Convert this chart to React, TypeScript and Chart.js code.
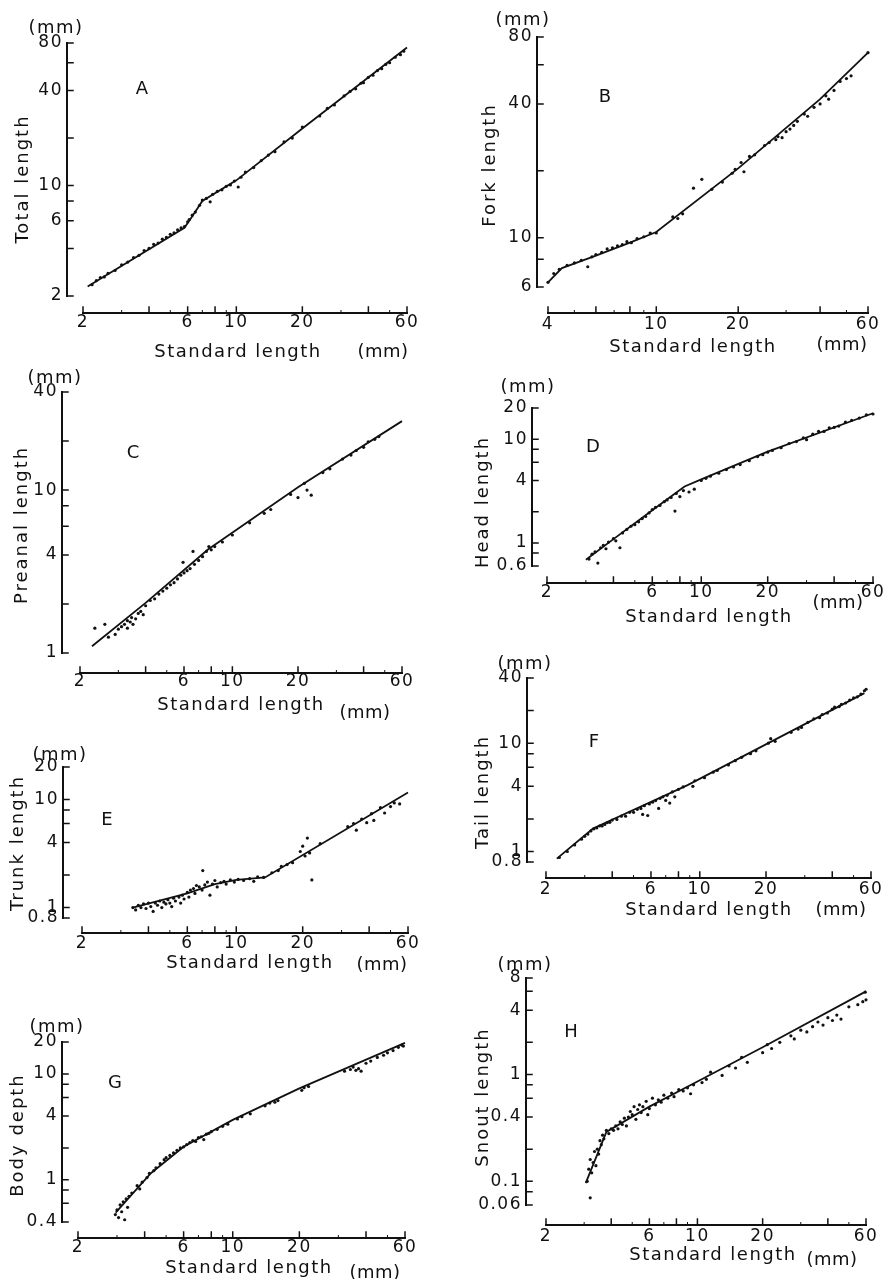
import React, { useEffect, useRef } from "react";
import { Chart, registerables } from "chart.js";

Chart.register(...registerables);

type Pt = [number, number];

// ---------------- tick values ----------------
const stdXLabels = [2, 6, 10, 20, 60];
const stdXMinor = [4, 8, 40];
const stdXSmall = [3, 5, 7, 9, 30, 50];
const bXLabels = [4, 10, 20, 60];
const bXMinor = [6, 8, 40];
const bXSmall = [5, 7, 9, 30, 50];

const aYLabels = [2, 6, 10, 40, 80];
const aYMinor = [4, 8, 20, 60];
const bYLabels = [6, 10, 40, 80];
const bYMinor = [8, 20, 60];
const cYLabels = [1, 4, 10, 40];
const cYMinor = [2, 6, 8, 20];
const dYLabels = [0.6, 1, 4, 10, 20];
const dYMinor = [0.8, 2, 6, 8];
const eYLabels = [0.8, 1, 4, 10, 20];
const eYMinor = [2, 6, 8];
const fYLabels = [0.8, 1, 4, 10, 40];
const fYMinor = [2, 6, 8, 20];
const gYLabels = [0.4, 1, 4, 10, 20];
const gYMinor = [0.6, 0.8, 2, 6, 8];
const hYLabels = [0.06, 0.1, 0.4, 1, 4, 8];
const hYMinor = [0.08, 0.2, 0.6, 0.8, 2, 6];

// ---------------- A: total length ----------------
const aPoints: Pt[] = [
  [2.2, 2.36], [2.3, 2.5], [2.4, 2.62], [2.5, 2.64], [2.6, 2.78], [2.8, 2.9], [3.0, 3.15], [3.2, 3.28],
  [3.4, 3.5], [3.6, 3.62], [3.8, 3.88], [4.0, 4.0], [4.2, 4.25], [4.4, 4.33], [4.6, 4.58], [4.8, 4.7],
  [5.0, 4.92], [5.2, 5.02], [5.4, 5.25], [5.6, 5.4], [5.8, 5.5], [6.0, 5.9], [6.1, 6.1], [6.3, 6.5],
  [6.5, 6.8], [6.8, 7.5], [7.0, 8.1], [7.3, 8.3], [7.6, 7.9], [7.8, 8.8], [8.2, 9.2], [8.6, 9.4],
  [9.0, 9.9], [9.4, 10.1], [9.8, 10.7], [10.2, 9.8], [10.5, 11.3], [11, 12.2], [12, 13.0], [13, 14.4],
  [14, 15.6], [15, 16.4], [16.5, 18.9], [18, 20.0], [20, 23.5], [24, 27.6], [26, 30.8], [28, 32.4],
  [31, 37], [33, 39.5], [35, 41], [37, 44.5], [38, 44.8], [40, 48.5], [42, 50], [44, 53.5],
  [46, 55], [48, 58.5], [50, 60], [53, 65], [56, 67.5], [58, 71],
];
const aFit: Pt[] = [[2.1, 2.3], [5.8, 5.4], [6.3, 6.4], [7.0, 8.0], [10, 10.8], [20, 23], [60, 75]];

// ---------------- B: fork length ----------------
const bPoints: Pt[] = [
  [4.0, 6.3], [4.2, 6.9], [4.4, 7.2], [4.7, 7.5], [5.0, 7.7], [5.3, 7.9], [5.6, 7.4], [5.8, 8.2],
  [6.0, 8.4], [6.3, 8.6], [6.6, 8.9], [6.9, 9.0], [7.2, 9.2], [7.5, 9.3], [7.8, 9.6], [8.1, 9.5],
  [8.5, 9.9], [9.0, 10.1], [9.5, 10.5], [10, 10.5], [11.5, 12.4], [12, 12.2], [12.5, 12.8], [13.7, 16.7],
  [14.7, 18.3], [16, 16.5], [17.5, 17.8], [19, 19.5], [19.5, 20.3], [20.5, 21.8], [21, 19.8], [22, 23.2],
  [23, 23.6], [25, 26], [26, 26.8], [27.5, 27.6], [28, 28.5], [29, 28.2], [30, 30], [31, 30.8],
  [32, 32], [33, 33.4], [35, 36], [36, 35.2], [38, 38.6], [40, 40], [42, 43.5], [43, 42],
  [45, 46], [47.4, 50.5], [50, 52], [52, 53.5], [60, 68],
];
const bFit: Pt[] = [[4, 6.3], [4.5, 7.3], [6, 8.3], [8, 9.5], [10, 10.6], [20, 20.5], [40, 42], [60, 68]];

// ---------------- C: preanal length ----------------
const cPoints: Pt[] = [
  [2.34, 1.42], [2.6, 1.5], [2.7, 1.25], [2.9, 1.3], [3.0, 1.4], [3.1, 1.45], [3.2, 1.5], [3.3, 1.58],
  [3.3, 1.42], [3.4, 1.55], [3.45, 1.65], [3.5, 1.5], [3.6, 1.62], [3.7, 1.75], [3.8, 1.8], [3.9, 1.72],
  [4.0, 1.95], [4.2, 2.1], [4.4, 2.15], [4.6, 2.3], [4.8, 2.4], [5.0, 2.5], [5.2, 2.62], [5.4, 2.7],
  [5.6, 2.85], [5.8, 3.0], [5.94, 3.6], [6.0, 3.1], [6.2, 3.2], [6.4, 3.3], [6.6, 4.2], [6.7, 3.5],
  [7.0, 3.7], [7.3, 3.9], [7.6, 4.2], [7.8, 4.5], [8.0, 4.3], [8.3, 4.5], [9.0, 4.8], [10, 5.3],
  [12, 6.3], [14, 7.2], [15, 7.6], [18.5, 9.4], [20, 9.0], [21.4, 11.0], [22, 10.0], [23, 9.3],
  [26, 12.8], [28, 13.5], [32, 15.5], [35, 16.4], [37, 17.5], [40, 18.3], [42, 19.8], [45, 20.5],
  [47, 21.3],
];
const cFit: Pt[] = [[2.27, 1.1], [4, 2.03], [7.7, 4.3], [20, 10.4], [60, 26.5]];

// ---------------- D: head length ----------------
const dPoints: Pt[] = [
  [3.1, 0.7], [3.2, 0.78], [3.3, 0.82], [3.4, 0.64], [3.5, 0.9], [3.6, 0.95], [3.7, 0.88], [3.8, 1.02],
  [4.0, 1.1], [4.1, 1.05], [4.28, 0.9], [4.4, 1.25], [4.6, 1.35], [4.8, 1.45], [5.0, 1.5], [5.2, 1.6],
  [5.4, 1.72], [5.6, 1.8], [5.8, 1.95], [6.0, 2.1], [6.2, 2.2], [6.5, 2.3], [6.8, 2.5], [7.0, 2.6],
  [7.3, 2.75], [7.6, 2.03], [7.7, 3.0], [8.0, 2.8], [8.3, 3.2], [8.8, 3.1], [9.3, 3.3], [10, 4.0],
  [10.5, 4.2], [11, 4.4], [12, 4.7], [13, 5.1], [14, 5.4], [15, 5.7], [16.5, 6.2], [18, 6.8],
  [19, 7.1], [20, 7.5], [21, 7.8], [23, 8.3], [25, 9.1], [27, 9.5], [29, 10.3], [30, 9.9],
  [32, 11.2], [34, 11.9], [36, 11.9], [38, 12.9], [40, 13.0], [42, 13.4], [45, 14.6], [48, 15.2],
  [52, 16.0], [56, 17.2], [60, 17.5],
];
const dFit: Pt[] = [[3.0, 0.69], [4, 1.09], [6, 2.07], [8.4, 3.5], [10, 4.1], [20, 7.6], [60, 17.8]];

// ---------------- E: trunk length ----------------
const ePoints: Pt[] = [
  [3.4, 1.0], [3.5, 0.95], [3.6, 1.05], [3.7, 1.0], [3.8, 1.08], [3.9, 0.98], [4.0, 1.1], [4.1, 1.02],
  [4.2, 0.92], [4.3, 1.1], [4.4, 1.05], [4.5, 1.15], [4.6, 1.0], [4.7, 1.12], [4.8, 1.08], [4.9, 1.18],
  [5.0, 1.1], [5.1, 1.02], [5.2, 1.22], [5.3, 1.15], [5.5, 1.25], [5.6, 1.1], [5.7, 1.3], [5.8, 1.2],
  [6.0, 1.38], [6.1, 1.25], [6.2, 1.45], [6.4, 1.5], [6.5, 1.35], [6.6, 1.6], [6.8, 1.55], [7.0, 1.45],
  [7.05, 2.2], [7.2, 1.62], [7.4, 1.72], [7.6, 1.3], [7.8, 1.65], [8.0, 1.78], [8.2, 1.55], [8.5, 1.7],
  [8.8, 1.75], [9.0, 1.65], [9.4, 1.8], [9.8, 1.72], [10.2, 1.82], [10.8, 1.78], [11.5, 1.85], [12, 1.75],
  [12.5, 1.92], [13.3, 1.9], [14.5, 2.1], [15.5, 2.2], [16, 2.4], [17, 2.5], [18, 2.6], [19.5, 3.3],
  [20, 3.7], [20.5, 3.0], [21, 4.4], [21.5, 3.2], [22, 1.8], [24, 3.9], [32, 5.6], [34, 6.0],
  [35, 5.2], [37, 6.6], [39, 6.1], [41, 7.4], [42, 6.4], [45, 8.4], [47, 7.5], [50, 8.6],
  [52, 9.3], [55, 9.1],
];
const eFit: Pt[] = [[3.4, 1.0], [6, 1.35], [8, 1.65], [10, 1.8], [13.5, 1.9], [60, 11.6]];

// ---------------- F: tail length ----------------
const fPoints: Pt[] = [
  [2.3, 0.88], [2.5, 1.0], [2.7, 1.15], [2.9, 1.3], [3.0, 1.38], [3.1, 1.45], [3.2, 1.55], [3.3, 1.62],
  [3.4, 1.65], [3.5, 1.72], [3.6, 1.72], [3.7, 1.78], [3.8, 1.85], [3.9, 1.86], [4.0, 1.95], [4.2, 1.98],
  [4.4, 2.12], [4.6, 2.12], [4.8, 2.3], [5.0, 2.3], [5.2, 2.45], [5.4, 2.5], [5.5, 2.2], [5.6, 2.65],
  [5.8, 2.15], [5.9, 2.75], [6.1, 2.85], [6.3, 2.95], [6.5, 2.5], [6.6, 3.1], [6.8, 3.2], [7.0, 2.96],
  [7.1, 3.3], [7.3, 2.8], [7.5, 3.55], [7.7, 3.2], [8.0, 3.75], [8.4, 3.95], [9.3, 4.0], [9.5, 4.5],
  [10.5, 4.8], [11.5, 5.4], [12, 5.6], [13.5, 6.3], [14.5, 6.9], [15.5, 7.4], [17, 8.0], [18, 8.5],
  [20.5, 10.0], [21, 11.0], [22, 10.4], [26, 12.6], [28, 13.5], [29, 14.0], [31, 15.6], [33, 16.8],
  [35, 17.2], [36, 18.4], [38, 19.0], [40, 20.6], [41, 21.5], [43, 21.8], [44, 22.9], [46, 23.5],
  [48, 25.0], [50, 26.2], [52, 26.8], [54, 28.4], [56, 30.5], [57, 31.5],
];
const fFit: Pt[] = [[2.24, 0.86], [3.27, 1.63], [8.8, 4.1], [56, 29]];

// ---------------- G: body depth ----------------
const gPoints: Pt[] = [
  [2.95, 0.47], [3.0, 0.52], [3.05, 0.44], [3.1, 0.58], [3.15, 0.5], [3.2, 0.62], [3.25, 0.42], [3.3, 0.66],
  [3.35, 0.55], [3.4, 0.7], [3.5, 0.75], [3.7, 0.88], [3.8, 0.82], [3.9, 0.95], [4.1, 1.05], [4.2, 1.15],
  [4.4, 1.22], [4.5, 1.3], [4.7, 1.42], [4.9, 1.55], [5.0, 1.62], [5.2, 1.7], [5.4, 1.8], [5.6, 1.9],
  [5.8, 2.0], [6.0, 2.05], [6.2, 2.15], [6.4, 2.25], [6.6, 2.35], [6.8, 2.3], [7.0, 2.5], [7.2, 2.55],
  [7.4, 2.4], [7.6, 2.7], [7.8, 2.75], [8.0, 2.85], [8.5, 3.0], [9.0, 3.2], [9.5, 3.35], [10.5, 3.75],
  [11, 3.95], [12, 4.2], [14, 5.0], [14.7, 5.3], [15.5, 5.4], [16, 5.6], [20.5, 7.0], [21, 7.4],
  [22, 7.6], [32, 10.6], [34, 11.0], [35, 11.6], [36, 10.8], [37, 11.2], [38, 10.6], [40, 12.6],
  [42, 13.2], [45, 14.3], [48, 15.0], [50, 15.8], [53, 16.6], [56, 17.8], [58, 18.7], [59, 18.3],
];
const gFit: Pt[] = [[2.96, 0.49], [3.4, 0.68], [4.28, 1.16], [6.0, 2.05], [10, 3.68], [20, 7.3], [60, 19.6]];

// ---------------- H: snout length ----------------
const hPoints: Pt[] = [
  [3.1, 0.1], [3.15, 0.13], [3.2, 0.07], [3.2, 0.16], [3.25, 0.12], [3.3, 0.15], [3.35, 0.19], [3.4, 0.14],
  [3.45, 0.2], [3.5, 0.18], [3.55, 0.24], [3.6, 0.22], [3.65, 0.27], [3.7, 0.25], [3.8, 0.3], [3.9, 0.28],
  [4.0, 0.31], [4.1, 0.3], [4.2, 0.33], [4.3, 0.31], [4.4, 0.36], [4.5, 0.34], [4.6, 0.39], [4.7, 0.33],
  [4.8, 0.4], [4.9, 0.45], [5.0, 0.42], [5.1, 0.5], [5.2, 0.38], [5.3, 0.47], [5.4, 0.52], [5.5, 0.44],
  [5.6, 0.5], [5.8, 0.56], [5.9, 0.42], [6.0, 0.48], [6.2, 0.6], [6.4, 0.52], [6.6, 0.58], [6.8, 0.55],
  [7.0, 0.64], [7.3, 0.6], [7.6, 0.67], [7.8, 0.62], [8.2, 0.72], [8.6, 0.7], [9.0, 0.75], [9.3, 0.66],
  [9.6, 0.8], [10.5, 0.84], [11, 0.9], [11.5, 1.05], [13, 0.98], [14, 1.2], [15, 1.15], [16, 1.45],
  [17, 1.3], [20, 1.6], [21, 1.9], [22, 1.75], [24, 2.0], [27, 2.3], [28, 2.15], [30, 2.6],
  [32, 2.5], [34, 2.8], [36, 3.1], [38, 2.9], [40, 3.4], [42, 3.2], [44, 3.6], [46, 3.3],
  [50, 4.3], [55, 4.5], [58, 4.8], [60, 5.0], [59.5, 5.9],
];
const hFit: Pt[] = [[3.05, 0.096], [3.8, 0.29], [6, 0.5], [10, 0.86], [20, 1.8], [60, 6.0]];

// ---------------- layout (page pixels) ----------------
type Panel = {
  key: string;
  yTitle: string;
  pts: Pt[];
  fit: Pt[];
  xMin: number; xMax: number; yMin: number; yMax: number;
  xLab: number[]; xMinor: number[]; xSmall: number[];
  yLab: number[]; yMinor: number[];
  box: [number, number, number, number];
  area: [number, number, number, number]; // left, right, top, bottom
  yAxisX: number; xAxisY: number; xLabelY: number;
  mm: [number, number]; yTitlePos: [number, number]; letter: [number, number];
  xTitle: [number, number]; xMm: [number, number];
};

const panels: Panel[] = [
  {
    key: "A", yTitle: "Total length", pts: aPoints, fit: aFit,
    xMin: 2, xMax: 60, yMin: 2, yMax: 80, xLab: stdXLabels, xMinor: stdXMinor, xSmall: stdXSmall,
    yLab: aYLabels, yMinor: aYMinor,
    box: [0, 0, 440, 365], area: [83, 407, 43, 296], yAxisX: 67, xAxisY: 313, xLabelY: 323,
    mm: [56, 28], yTitlePos: [23, 179], letter: [142, 89], xTitle: [238, 352], xMm: [383, 352],
  },
  {
    key: "B", yTitle: "Fork length", pts: bPoints, fit: bFit,
    xMin: 4, xMax: 60, yMin: 6, yMax: 80, xLab: bXLabels, xMinor: bXMinor, xSmall: bXSmall,
    yLab: bYLabels, yMinor: bYMinor,
    box: [440, 0, 445, 365], area: [548, 868, 37, 287], yAxisX: 537, xAxisY: 313, xLabelY: 325,
    mm: [523, 20], yTitlePos: [490, 165], letter: [605, 97], xTitle: [693, 347], xMm: [842, 345],
  },
  {
    key: "C", yTitle: "Preanal length", pts: cPoints, fit: cFit,
    xMin: 2, xMax: 60, yMin: 1, yMax: 40, xLab: stdXLabels, xMinor: stdXMinor, xSmall: stdXSmall,
    yLab: cYLabels, yMinor: cYMinor,
    box: [0, 365, 440, 355], area: [80, 402, 392, 653], yAxisX: 62, xAxisY: 673, xLabelY: 682,
    mm: [55, 378], yTitlePos: [22, 525], letter: [133, 453], xTitle: [241, 705], xMm: [365, 713],
  },
  {
    key: "D", yTitle: "Head length", pts: dPoints, fit: dFit,
    xMin: 2, xMax: 60, yMin: 0.6, yMax: 20, xLab: stdXLabels, xMinor: stdXMinor, xSmall: stdXSmall,
    yLab: dYLabels, yMinor: dYMinor,
    box: [440, 365, 445, 275], area: [547, 873, 408, 566], yAxisX: 532, xAxisY: 583, xLabelY: 593,
    mm: [528, 387], yTitlePos: [483, 502], letter: [593, 447], xTitle: [709, 617], xMm: [838, 603],
  },
  {
    key: "E", yTitle: "Trunk length", pts: ePoints, fit: eFit,
    xMin: 2, xMax: 60, yMin: 0.8, yMax: 20, xLab: stdXLabels, xMinor: stdXMinor, xSmall: stdXSmall,
    yLab: eYLabels, yMinor: eYMinor,
    box: [0, 720, 440, 255], area: [82, 408, 767, 918], yAxisX: 63, xAxisY: 933, xLabelY: 944,
    mm: [60, 755], yTitlePos: [18, 843], letter: [107, 820], xTitle: [250, 963], xMm: [382, 965],
  },
  {
    key: "F", yTitle: "Tail length", pts: fPoints, fit: fFit,
    xMin: 2, xMax: 60, yMin: 0.8, yMax: 40, xLab: stdXLabels, xMinor: stdXMinor, xSmall: stdXSmall,
    yLab: fYLabels, yMinor: fYMinor,
    box: [440, 640, 445, 285], area: [546, 871, 678, 862], yAxisX: 527, xAxisY: 878, xLabelY: 890,
    mm: [525, 664], yTitlePos: [483, 792], letter: [594, 742], xTitle: [709, 910], xMm: [841, 910],
  },
  {
    key: "G", yTitle: "Body depth", pts: gPoints, fit: gFit,
    xMin: 2, xMax: 60, yMin: 0.4, yMax: 20, xLab: stdXLabels, xMinor: stdXMinor, xSmall: stdXSmall,
    yLab: gYLabels, yMinor: gYMinor,
    box: [0, 975, 440, 304], area: [78, 405, 1042, 1222], yAxisX: 62, xAxisY: 1238, xLabelY: 1248,
    mm: [57, 1027], yTitlePos: [18, 1135], letter: [115, 1083], xTitle: [249, 1268], xMm: [375, 1273],
  },
  {
    key: "H", yTitle: "Snout length", pts: hPoints, fit: hFit,
    xMin: 2, xMax: 60, yMin: 0.06, yMax: 8, xLab: stdXLabels, xMinor: stdXMinor, xSmall: stdXSmall,
    yLab: hYLabels, yMinor: hYMinor,
    box: [440, 925, 445, 354], area: [546, 866, 978, 1205], yAxisX: 526, xAxisY: 1225, xLabelY: 1237,
    mm: [525, 965], yTitlePos: [483, 1097], letter: [571, 1032], xTitle: [713, 1255], xMm: [832, 1260],
  },
];

const INK = "#111111";
const FONT = "DejaVu Sans";
const TICK_SIZE = 17;
const TEXT_SIZE = 18;

function axisPlugin(p: Panel) {
  return {
    id: "axes" + p.key,
    beforeDraw(chart: any) {
      (chart.ctx as any).letterSpacing = "1.5px";
    },
    afterDraw(chart: any) {
      const ctx = chart.ctx as CanvasRenderingContext2D;
      const xs = chart.scales.x;
      const ys = chart.scales.y;
      const ox = p.box[0];
      const oy = p.box[1];
      ctx.save();
      ctx.strokeStyle = INK;
      ctx.fillStyle = INK;
      ctx.lineCap = "square";

      // y axis line with inward ticks
      const ax = p.yAxisX - ox;
      ctx.lineWidth = 2;
      ctx.beginPath();
      ctx.moveTo(ax, ys.getPixelForValue(p.yMax));
      ctx.lineTo(ax, ys.getPixelForValue(p.yMin));
      ctx.stroke();
      ctx.lineWidth = 1.5;
      ctx.beginPath();
      for (const v of [...p.yLab, ...p.yMinor]) {
        const py = ys.getPixelForValue(v);
        ctx.moveTo(ax, py);
        ctx.lineTo(ax + 6, py);
      }
      ctx.stroke();

      // x axis line with inward ticks
      const ay = p.xAxisY - oy;
      ctx.lineWidth = 2;
      ctx.beginPath();
      ctx.moveTo(xs.getPixelForValue(p.xMin), ay);
      ctx.lineTo(xs.getPixelForValue(p.xMax), ay);
      ctx.stroke();
      ctx.lineWidth = 1.5;
      ctx.beginPath();
      for (const v of [...p.xLab, ...p.xMinor]) {
        const px = xs.getPixelForValue(v);
        ctx.moveTo(px, ay);
        ctx.lineTo(px, ay - 6);
      }
      ctx.stroke();
      ctx.lineWidth = 1;
      ctx.beginPath();
      for (const v of p.xSmall) {
        const px = xs.getPixelForValue(v);
        ctx.moveTo(px, ay);
        ctx.lineTo(px, ay - 2.5);
      }
      ctx.stroke();

      // texts
      (ctx as any).letterSpacing = "1.5px";
      ctx.font = `${TEXT_SIZE}px "${FONT}"`;
      ctx.textAlign = "center";
      ctx.textBaseline = "middle";
      ctx.fillText("(mm)", p.mm[0] - ox, p.mm[1] - oy);
      ctx.fillText("Standard length", p.xTitle[0] - ox, p.xTitle[1] - oy);
      (ctx as any).letterSpacing = "0.5px";
      ctx.fillText("(mm)", p.xMm[0] - ox, p.xMm[1] - oy);
      (ctx as any).letterSpacing = "0px";
      ctx.fillText(p.key, p.letter[0] - ox, p.letter[1] - oy);

      ctx.save();
      (ctx as any).letterSpacing = "2px";
      ctx.translate(p.yTitlePos[0] - ox, p.yTitlePos[1] - oy);
      ctx.rotate(-Math.PI / 2);
      ctx.fillText(p.yTitle, 0, 0);
      ctx.restore();

      ctx.restore();
    },
  };
}

function makeChart(canvas: HTMLCanvasElement, p: Panel) {
  const [bl, bt, bw, bh] = p.box;
  const [al, ar, at, ab] = p.area;
  const lineHeight = TICK_SIZE * 1.2;
  const tickFont = { family: FONT, size: TICK_SIZE };
  return new Chart(canvas, {
    type: "scatter",
    data: {
      datasets: [
        {
          type: "scatter",
          data: p.pts.map(([x, y]) => ({ x, y })),
          pointRadius: 1.6,
          pointBackgroundColor: INK,
          pointBorderWidth: 0,
          showLine: false,
          clip: 6,
        } as any,
        {
          type: "line",
          data: p.fit.map(([x, y]) => ({ x, y })),
          borderColor: INK,
          borderWidth: 1.8,
          pointRadius: 0,
          tension: 0,
          fill: false,
          clip: 6,
        } as any,
      ],
    },
    options: {
      animation: false,
      responsive: false,
      events: [],
      layout: {
        autoPadding: false,
        padding: { left: 0, top: at - bt, right: bl + bw - ar, bottom: 0 },
      },
      plugins: { legend: { display: false }, tooltip: { enabled: false } },
      scales: {
        x: {
          type: "logarithmic",
          position: "bottom",
          min: p.xMin,
          max: p.xMax,
          grid: { display: false, drawTicks: false },
          border: { display: false },
          afterBuildTicks: (s: any) => {
            s.ticks = p.xLab.map((v) => ({ value: v }));
          },
          afterFit: (s: any) => {
            s.height = bt + bh - ab;
            s.paddingLeft = 0;
            s.paddingRight = 0;
          },
          ticks: {
            autoSkip: false,
            maxRotation: 0,
            minRotation: 0,
            padding: p.xLabelY - ab - lineHeight / 2,
            color: INK,
            font: tickFont,
            callback: (v: any) => String(v),
          },
        },
        y: {
          type: "logarithmic",
          position: "left",
          min: p.yMin,
          max: p.yMax,
          grid: { display: false, drawTicks: false },
          border: { display: false },
          afterBuildTicks: (s: any) => {
            s.ticks = p.yLab.map((v) => ({ value: v }));
          },
          afterFit: (s: any) => {
            s.width = al - bl;
            s.paddingTop = 0;
            s.paddingBottom = 0;
          },
          ticks: {
            autoSkip: false,
            padding: al - (p.yAxisX - 4),
            color: INK,
            font: tickFont,
            callback: (v: any) => String(v),
          },
        },
      },
    } as any,
    plugins: [axisPlugin(p)],
  });
}

function PanelCanvas({ p }: { p: Panel }) {
  const ref = useRef<HTMLCanvasElement>(null);
  useEffect(() => {
    if (!ref.current) return;
    const c = makeChart(ref.current, p);
    return () => c.destroy();
  }, [p]);
  const [l, t, w, h] = p.box;
  return (
    <canvas
      ref={ref}
      width={w}
      height={h}
      style={{ position: "absolute", left: l, top: t, width: w, height: h }}
    />
  );
}

export default function App() {
  return (
    <div
      style={{
        position: "absolute",
        left: 0,
        top: 0,
        width: 885,
        height: 1279,
        background: "#ffffff",
        overflow: "hidden",
      }}
    >
      {panels.map((p) => (
        <PanelCanvas key={p.key} p={p} />
      ))}
    </div>
  );
}
